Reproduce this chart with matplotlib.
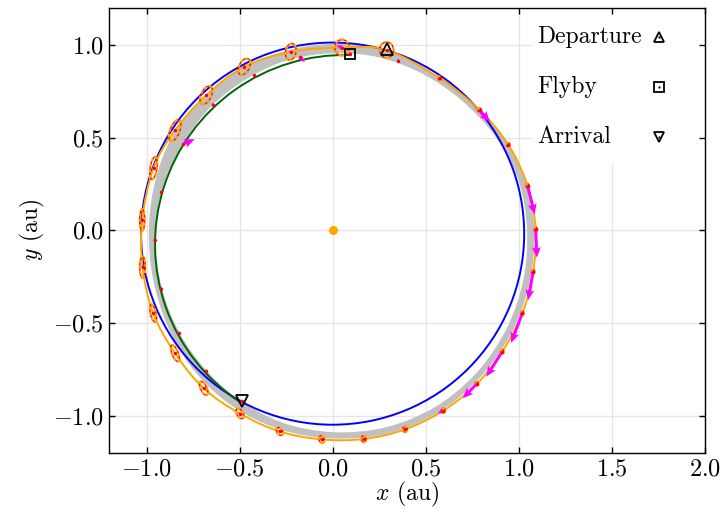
#!/usr/bin/env python3
"""
Trajectory plot: departure -> flyby -> arrival, with uncertainty band,
covariance ellipses and thrust arrows. Saves out.png
"""

import numpy as np
import matplotlib
matplotlib.use("Agg")
import matplotlib.pyplot as plt
from matplotlib.patches import Circle, Arc, Ellipse, PathPatch, Rectangle
from matplotlib.path import Path

# --- data (au) ---

# reference orbit (blue)
ORBIT_CENTER = (0.0, -0.018)
ORBIT_RADIUS = 1.03

# first leg, mean trajectory nodes (orange), loop starts/ends at departure
TRAJ_X = [0.29, 0.05, -0.225, -0.475, -0.68, -0.848, -0.963, -1.024, -1.022,
          -0.965, -0.847, -0.693, -0.498, -0.285, -0.059, 0.167, 0.389, 0.595,
          0.775, 0.912, 1.02, 1.078, 1.092, 1.048, 0.945, 0.79, 0.577]
TRAJ_Y = [0.972, 0.985, 0.962, 0.882, 0.728, 0.538, 0.335, 0.056, -0.198,
          -0.447, -0.663, -0.852, -0.988, -1.084, -1.127, -1.125, -1.073, -0.972,
          -0.828, -0.654, -0.447, -0.223, 0.005, 0.24, 0.46, 0.648, 0.819]

# covariance ellipses at the nodes (width, height, angle deg)
ELL_W = [0.075, 0.078, 0.056, 0.055, 0.055, 0.052, 0.036, 0.027, 0.03,
         0.03, 0.034, 0.034, 0.034, 0.03, 0.028, 0.026, 0.024, 0.022,
         0.018, 0.018, 0.018, 0.018, 0.018, 0.018, 0.018, 0.018, 0.018]
ELL_H = [0.085, 0.086, 0.09, 0.095, 0.105, 0.12, 0.122, 0.117, 0.117,
         0.097, 0.095, 0.08, 0.06, 0.048, 0.04, 0.035, 0.03, 0.026,
         0.022, 0.022, 0.022, 0.022, 0.022, 0.022, 0.022, 0.022, 0.022]
ELL_ANG = [0, 0, -12, -28, -25, -21, -8, 0, 0,
           13, 22, 25, 31, 35, 20, 10, 0, 0,
           0, 0, 0, 0, 0, 0, 0, 0, 0]

# thrust arrows at the nodes
THR_DX = [0.015, -0.03, 0.008, 0.0, 0.0, 0.0, 0.0, 0.0, 0.0,
          -0.005, -0.005, -0.006, -0.008, -0.008, -0.01, -0.01, -0.01, -0.03,
          -0.075, -0.086, -0.06, -0.027, 0.006, 0.039, 0.008, 0.055, 0.012]
THR_DY = [-0.01, 0.012, 0.0, 0.008, 0.008, 0.008, 0.008, 0.008, 0.008,
          0.008, 0.008, 0.006, 0.004, 0.003, 0.0, 0.0, -0.004, -0.015,
          -0.077, -0.135, -0.16, -0.153, -0.152, -0.154, -0.01, -0.063, -0.008]

# second leg (green), flyby -> arrival on a circle-like arc
LEG2_CENTER = (0.065, -0.075)
LEG2_RADIUS = 1.02
LEG2_X = [0.353, 0.094, -0.177, -0.425, -0.643, -0.805, -0.921, -0.957,
          -0.921, -0.828, -0.679, -0.489]
LEG2_Y = [0.914, 0.953, 0.934, 0.839, 0.678, 0.464, 0.207, -0.054,
          -0.314, -0.553, -0.758, -0.92]
LEG2_DX = [0.012, 0.01, 0.027, 0.015, 0.01, 0.063, 0.012, 0.01, 0.01, 0.01, 0.01, 0.012]
LEG2_DY = [-0.006, 0.0, -0.027, -0.012, -0.012, 0.027, 0.006, 0.0, 0.004, 0.004, 0.006, 0.0]

# dispersion band (grey), outer and inner edge
BAND_OUT_X = [0.0, 0.261, 0.5, 0.718, 0.905, 1.034, 1.085, 1.058, 0.961, 0.793,
              0.567, 0.294, 0.0, -0.287, -0.545, -0.75, -0.888, -0.966, -0.988,
              -0.956, -0.866, -0.704, -0.499, -0.259]
BAND_OUT_Y = [1.005, 0.976, 0.866, 0.718, 0.523, 0.277, 0.0, -0.283, -0.555, -0.793,
              -0.982, -1.096, -1.122, -1.072, -0.944, -0.75, -0.513, -0.259, 0.0,
              0.256, 0.5, 0.704, 0.864, 0.966]
BAND_IN_X = [0.0, 0.25, 0.486, 0.697, 0.875, 1.0, 1.045, 1.024, 0.931, 0.771,
             0.55, 0.285, 0.0, -0.277, -0.52, -0.714, -0.853, -0.932, -0.953,
             -0.91, -0.805, -0.66, -0.469, -0.245]
BAND_IN_Y = [0.954, 0.932, 0.842, 0.697, 0.505, 0.268, 0.0, -0.274, -0.538, -0.771,
             -0.953, -1.062, -1.088, -1.034, -0.901, -0.714, -0.493, -0.25, 0.0,
             0.244, 0.465, 0.66, 0.812, 0.916]

# events
DEPARTURE = (0.29, 0.975)
FLYBY = (0.094, 0.953)
ARRIVAL = (-0.489, -0.92)
SUN = (0.0, 0.0)

LEGEND_LABELS = ['Departure', 'Flyby', 'Arrival']
LEGEND_MARKERS = ['^', 's', 'v']

X_TICKS = [-1.0, -0.5, 0.0, 0.5, 1.0, 1.5, 2.0]
Y_TICKS = [-1.0, -0.5, 0.0, 0.5, 1.0]


def smooth_path(xs, ys):
    """Closed smooth curve through the nodes (cubic bezier pieces)"""
    pts = np.column_stack([xs, ys])
    n = len(pts)
    verts, codes = [pts[0]], [Path.MOVETO]
    for i in range(n):
        p0, p1 = pts[(i - 1) % n], pts[i]
        p2, p3 = pts[(i + 1) % n], pts[(i + 2) % n]
        verts += [p1 + (p2 - p0) / 6, p2 - (p3 - p1) / 6, p2]
        codes += [Path.CURVE4] * 3
    return Path(verts, codes)


def band_patch():
    """Closed ring between the two band edges"""
    outer = smooth_path(BAND_OUT_X, BAND_OUT_Y)
    inner = smooth_path(BAND_IN_X[::-1], BAND_IN_Y[::-1])
    return PathPatch(Path.make_compound_path(outer, inner),
                     facecolor='#c0c0c0', edgecolor='none', zorder=1)


def main():
    plt.rcParams['font.family'] = 'cmr10'
    plt.rcParams['mathtext.fontset'] = 'cm'
    plt.rcParams['axes.formatter.use_mathtext'] = True

    fig = plt.figure(figsize=(7.2, 5.09), dpi=100)
    ax = fig.add_axes([0.152, 0.1102, 0.8266, 0.8747])

    # grid by hand so the legend box can sit between grid and ticks
    for xv in X_TICKS:
        ax.axvline(xv, color='#e6e6e6', lw=1.0, zorder=0.2)
    for yv in Y_TICKS:
        ax.axhline(yv, color='#e6e6e6', lw=1.0, zorder=0.2)

    # dispersion band
    ax.add_patch(band_patch())

    # reference orbit
    ax.add_patch(Circle(ORBIT_CENTER, ORBIT_RADIUS, fill=False, edgecolor='blue', lw=1.4, zorder=3))

    # second leg arc
    cx, cy = LEG2_CENTER
    t1 = np.degrees(np.arctan2(FLYBY[1] - cy, FLYBY[0] - cx))
    t2 = np.degrees(np.arctan2(ARRIVAL[1] - cy, ARRIVAL[0] - cx)) % 360
    ax.add_patch(Arc(LEG2_CENTER, 2 * LEG2_RADIUS, 2 * LEG2_RADIUS, theta1=t1, theta2=t2,
                     edgecolor='darkgreen', lw=1.4, zorder=3))

    # first leg
    ax.add_patch(PathPatch(smooth_path(TRAJ_X, TRAJ_Y), fill=False,
                           edgecolor='orange', lw=1.4, zorder=4))

    # covariance ellipses
    for x, y, w, h, a in zip(TRAJ_X, TRAJ_Y, ELL_W, ELL_H, ELL_ANG):
        ax.add_patch(Ellipse((x, y), w, h, angle=a, fill=False, edgecolor='red', lw=1.0, zorder=5))
        ax.add_patch(Ellipse((x, y), w, h, angle=a, fill=False, edgecolor='orange', lw=1.6,
                             linestyle=(0, (1.5, 1.0)), zorder=5))

    # thrust arrows
    qkw = dict(angles='xy', scale_units='xy', scale=1, color='magenta', width=0.005,
               headwidth=3, headlength=3.5, headaxislength=3, zorder=6)
    ax.quiver(TRAJ_X, TRAJ_Y, THR_DX, THR_DY, **qkw)
    ax.quiver(LEG2_X, LEG2_Y, LEG2_DX, LEG2_DY, **qkw)

    # node dots
    ax.plot(TRAJ_X, TRAJ_Y, 'o', color='red', ms=2.4, mew=0, zorder=7)
    ax.plot(LEG2_X, LEG2_Y, 'o', color='red', ms=2.4, mew=0, zorder=7)

    # sun
    ax.plot(*SUN, 'o', color='orange', ms=6.5, mew=0, zorder=7)

    # events
    mk = dict(ls='none', mfc='none', mec='black', mew=1.3)
    for (x, y), m in zip([DEPARTURE, FLYBY, ARRIVAL], LEGEND_MARKERS):
        ax.plot(x, y, marker=m, ms=7.5 if m == 's' else 8, zorder=8, **mk)

    # legend drawn by hand: labels left aligned, markers in one column on the right
    ax.add_patch(Rectangle((0.712, 0.65), 0.288, 0.35, transform=ax.transAxes,
                           facecolor='white', edgecolor='none', zorder=0.3))
    for k, (lab, m) in enumerate(zip(LEGEND_LABELS, LEGEND_MARKERS)):
        yk = 0.934 - 0.1125 * k
        ax.text(0.7184, yk, lab, transform=ax.transAxes, fontsize=17,
                ha='left', va='center', zorder=10)
        ax.plot(0.9234, yk, marker=m, ms=6.5 if m == 's' else 7, transform=ax.transAxes,
                clip_on=False, zorder=10, **mk)
        ax.plot(0.9234, yk, marker='o', color='black', ms=1.6, mew=0,
                transform=ax.transAxes, clip_on=False, zorder=10)

    # axes
    ax.set_xlim(-1.2, 2.0)
    ax.set_ylim(-1.2, 1.2)
    ax.set_xticks(X_TICKS)
    ax.set_yticks(Y_TICKS)
    ax.set_axisbelow(True)
    ax.tick_params(direction='in', length=4, width=1, top=True, right=True,
                   labelsize=17.5, pad=4)
    for s in ax.spines.values():
        s.set_linewidth(1.0)
        s.set_zorder(11)
    ax.set_xlabel(r'$x$ (au)', fontsize=17, labelpad=-0.5)
    ax.set_ylabel(r'$y$ (au)', fontsize=17, labelpad=4)

    fig.savefig('out.png', dpi=100, facecolor='white')
    plt.close(fig)
    print("Saved: out.png")


if __name__ == "__main__":
    main()
